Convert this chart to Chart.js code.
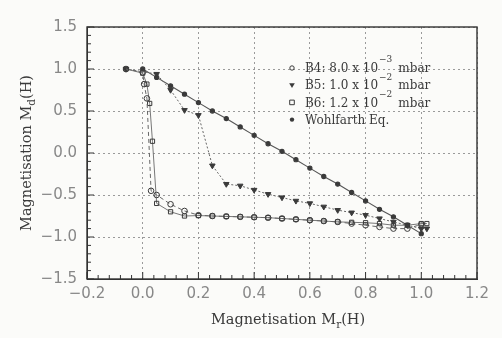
<!DOCTYPE html>
<html>
<head>
<meta charset="utf-8">
<script src="https://cdn.jsdelivr.net/npm/chart.js@4/dist/chart.umd.min.js"></script>
<style>
  html, body { margin: 0; padding: 0; background: #fbfbf9; }
  #wrap { width: 502px; height: 338px; }
</style>
</head>
<body>
<div id="wrap"><canvas id="chart"></canvas></div>
<script>
// values
const b4X = [-0.06, 0.0, 0.005, 0.015, 0.03, 0.05, 0.1, 0.15, 0.2, 0.25, 0.3, 0.35, 0.4, 0.45, 0.5, 0.55, 0.6, 0.65, 0.7, 0.75, 0.8, 0.85, 0.9, 0.95, 1.0];
const b4Y = [1.0, 0.96, 0.82, 0.65, -0.45, -0.5, -0.61, -0.69, -0.74, -0.75, -0.755, -0.76, -0.765, -0.77, -0.78, -0.79, -0.8, -0.81, -0.82, -0.84, -0.86, -0.88, -0.9, -0.9, -0.85];

const b5X = [-0.06, 0.05, 0.1, 0.15, 0.2, 0.25, 0.3, 0.35, 0.4, 0.45, 0.5, 0.55, 0.6, 0.65, 0.7, 0.75, 0.8, 0.85, 0.9, 0.95, 1.0, 1.02];
const b5Y = [1.0, 0.94, 0.75, 0.51, 0.45, -0.15, -0.37, -0.39, -0.44, -0.49, -0.53, -0.57, -0.6, -0.64, -0.68, -0.71, -0.74, -0.78, -0.82, -0.86, -0.9, -0.9];

const b6X = [-0.06, 0.0, 0.015, 0.025, 0.035, 0.05, 0.1, 0.15, 0.2, 0.25, 0.3, 0.35, 0.4, 0.45, 0.5, 0.55, 0.6, 0.65, 0.7, 0.75, 0.8, 0.85, 0.9, 0.95, 1.0, 1.02];
const b6Y = [1.0, 0.95, 0.82, 0.59, 0.14, -0.6, -0.7, -0.75, -0.745, -0.75, -0.755, -0.76, -0.765, -0.77, -0.78, -0.79, -0.8, -0.81, -0.82, -0.825, -0.83, -0.84, -0.86, -0.86, -0.84, -0.84];

const wohlX = [0.0, 0.05, 0.1, 0.15, 0.2, 0.25, 0.3, 0.35, 0.4, 0.45, 0.5, 0.55, 0.6, 0.65, 0.7, 0.75, 0.8, 0.85, 0.9, 0.95, 1.0];
const wohlY = [1.0, 0.9, 0.8, 0.7, 0.6, 0.5, 0.41, 0.31, 0.21, 0.11, 0.02, -0.08, -0.18, -0.28, -0.37, -0.47, -0.57, -0.67, -0.76, -0.86, -0.96];

const legendText = ['B4: 8.0 x 10', 'B5: 1.0 x 10', 'B6: 1.2 x 10', 'Wohlfarth Eq.'];
const legendExp = ['\u22123', '\u22122', '\u22122', ''];
const legendUnit = ['mbar', 'mbar', 'mbar', ''];

const xTitle = ['Magnetisation M', 'r', '(H)'];
const yTitle = ['Magnetisation M', 'd', '(H)'];

const toPts = (xs, ys) => xs.map((x, i) => ({ x: x, y: ys[i] }));
const fmt = v => (Math.abs(v) < 1e-9 ? 0 : v).toFixed(1).replace('-', '\u2212');

const serif = '"DejaVu Serif", "Liberation Serif", serif';
const sans = '"DejaVu Sans", "Liberation Sans", sans-serif';
const ink = '#3a3a3a';

function drawSub(ctx, parts, size) {
  ctx.font = size + 'px ' + serif;
  const w0 = ctx.measureText(parts[0]).width;
  ctx.font = (size - 4) + 'px ' + serif;
  const w1 = ctx.measureText(parts[1]).width;
  ctx.font = size + 'px ' + serif;
  const w2 = ctx.measureText(parts[2]).width;
  const x = -(w0 + w1 + w2) / 2;
  ctx.textBaseline = 'alphabetic';
  ctx.textAlign = 'left';
  ctx.fillText(parts[0], x, 0);
  ctx.font = (size - 4) + 'px ' + serif;
  ctx.fillText(parts[1], x + w0, 4);
  ctx.font = size + 'px ' + serif;
  ctx.fillText(parts[2], x + w0 + w1, 0);
}

function drawMarker(ctx, i, x, y) {
  ctx.save();
  ctx.strokeStyle = ink;
  ctx.fillStyle = ink;
  ctx.lineWidth = 1;
  ctx.beginPath();
  if (i === 0) {
    ctx.arc(x, y, 2.2, 0, Math.PI * 2);
    ctx.stroke();
  } else if (i === 1) {
    ctx.moveTo(x - 2.8, y - 2);
    ctx.lineTo(x + 2.8, y - 2);
    ctx.lineTo(x, y + 2.8);
    ctx.closePath();
    ctx.fill();
  } else if (i === 2) {
    ctx.rect(x - 2.3, y - 2.3, 4.6, 4.6);
    ctx.stroke();
  } else {
    ctx.arc(x, y, 2.2, 0, Math.PI * 2);
    ctx.fill();
  }
  ctx.restore();
}

const decorations = {
  id: 'decorations',
  afterDraw(chart) {
    const ctx = chart.ctx;
    const a = chart.chartArea;
    const xs = chart.scales.x;
    const ys = chart.scales.y;

    ctx.save();
    // frame
    ctx.strokeStyle = '#333';
    ctx.lineWidth = 1.4;
    ctx.strokeRect(a.left, a.top, a.right - a.left, a.bottom - a.top);

    // inner ticks
    ctx.lineWidth = 1;
    ctx.beginPath();
    for (let i = 0; i <= 35; i++) {
      const px = xs.getPixelForValue(-0.2 + i * 0.04);
      const len = i % 5 === 0 ? 7 : 4;
      ctx.moveTo(px, a.bottom);
      ctx.lineTo(px, a.bottom - len);
    }
    for (let i = 0; i <= 30; i++) {
      const py = ys.getPixelForValue(-1.5 + i * 0.1);
      const len = i % 5 === 0 ? 7 : 4;
      ctx.moveTo(a.left, py);
      ctx.lineTo(a.left + len, py);
    }
    ctx.stroke();

    // axis titles
    ctx.fillStyle = ink;
    ctx.save();
    ctx.translate(288, 324);
    drawSub(ctx, xTitle, 14.5);
    ctx.restore();
    ctx.save();
    ctx.translate(31, (a.top + a.bottom) / 2);
    ctx.rotate(-Math.PI / 2);
    drawSub(ctx, yTitle, 14.5);
    ctx.restore();

    // legend
    for (let i = 0; i < legendText.length; i++) {
      const y = 68 + i * 17.2;
      drawMarker(ctx, i, 292, y);
      ctx.fillStyle = ink;
      ctx.textAlign = 'left';
      ctx.textBaseline = 'middle';
      ctx.font = '12px ' + serif;
      ctx.fillText(legendText[i], 305, y + 1);
      let x = 305 + ctx.measureText(legendText[i]).width + 1;
      if (legendExp[i]) {
        ctx.font = '9px ' + serif;
        ctx.fillText(legendExp[i], x, y - 8);
        x += ctx.measureText(legendExp[i]).width + 6;
        ctx.font = '12px ' + serif;
        ctx.fillText(legendUnit[i], x, y + 1);
      }
    }
    ctx.restore();
  }
};

const ctx = document.getElementById('chart').getContext('2d');
const chart = new Chart(ctx, {
  type: 'scatter',
  data: {
    datasets: [
      {
        label: 'B4',
        data: toPts(b4X, b4Y),
        showLine: true,
        borderColor: '#666',
        borderWidth: 1,
        borderDash: [4, 3],
        pointStyle: 'circle',
        pointRadius: 2.8,
        pointBorderColor: ink,
        pointBackgroundColor: 'rgba(251,251,249,0)',
        pointBorderWidth: 1
      },
      {
        label: 'B5',
        data: toPts(b5X, b5Y),
        showLine: true,
        borderColor: '#666',
        borderWidth: 1,
        borderDash: [2, 2],
        pointStyle: 'triangle',
        rotation: 180,
        pointRadius: 3.2,
        pointBorderColor: ink,
        pointBackgroundColor: ink,
        pointBorderWidth: 1
      },
      {
        label: 'B6',
        data: toPts(b6X, b6Y),
        showLine: true,
        borderColor: '#777',
        borderWidth: 1,
        pointStyle: 'rect',
        pointRadius: 3,
        pointBorderColor: ink,
        pointBackgroundColor: 'rgba(251,251,249,0)',
        pointBorderWidth: 1
      },
      {
        label: 'Wohlfarth Eq.',
        data: toPts(wohlX, wohlY),
        showLine: true,
        borderColor: '#555',
        borderWidth: 1.1,
        pointStyle: 'circle',
        pointRadius: 2.1,
        pointBorderColor: ink,
        pointBackgroundColor: ink
      }
    ]
  },
  options: {
    responsive: true,
    maintainAspectRatio: false,
    animation: false,
    events: [],
    layout: { padding: { top: 27, right: 25, left: 0, bottom: 0 } },
    plugins: {
      legend: { display: false },
      tooltip: { enabled: false }
    },
    scales: {
      x: {
        type: 'linear',
        min: -0.2,
        max: 1.2,
        ticks: {
          stepSize: 0.2,
          padding: 6,
          color: '#888',
          font: { family: sans, size: 15 },
          callback: v => fmt(v),
          maxRotation: 0
        },
        grid: { color: '#9a9a9a', drawTicks: false, lineWidth: 1 },
        border: { display: true, color: '#333', dash: [2, 3] },
        afterFit: s => { s.height = 59; }
      },
      y: {
        type: 'linear',
        min: -1.5,
        max: 1.5,
        ticks: {
          stepSize: 0.5,
          padding: 10,
          color: '#888',
          font: { family: sans, size: 15 },
          callback: v => fmt(v)
        },
        grid: { color: '#9a9a9a', drawTicks: false, lineWidth: 1 },
        border: { display: true, color: '#333', dash: [2, 3] },
        afterFit: s => { s.width = 87; }
      }
    }
  },
  plugins: [decorations]
});
</script>
</body>
</html>
